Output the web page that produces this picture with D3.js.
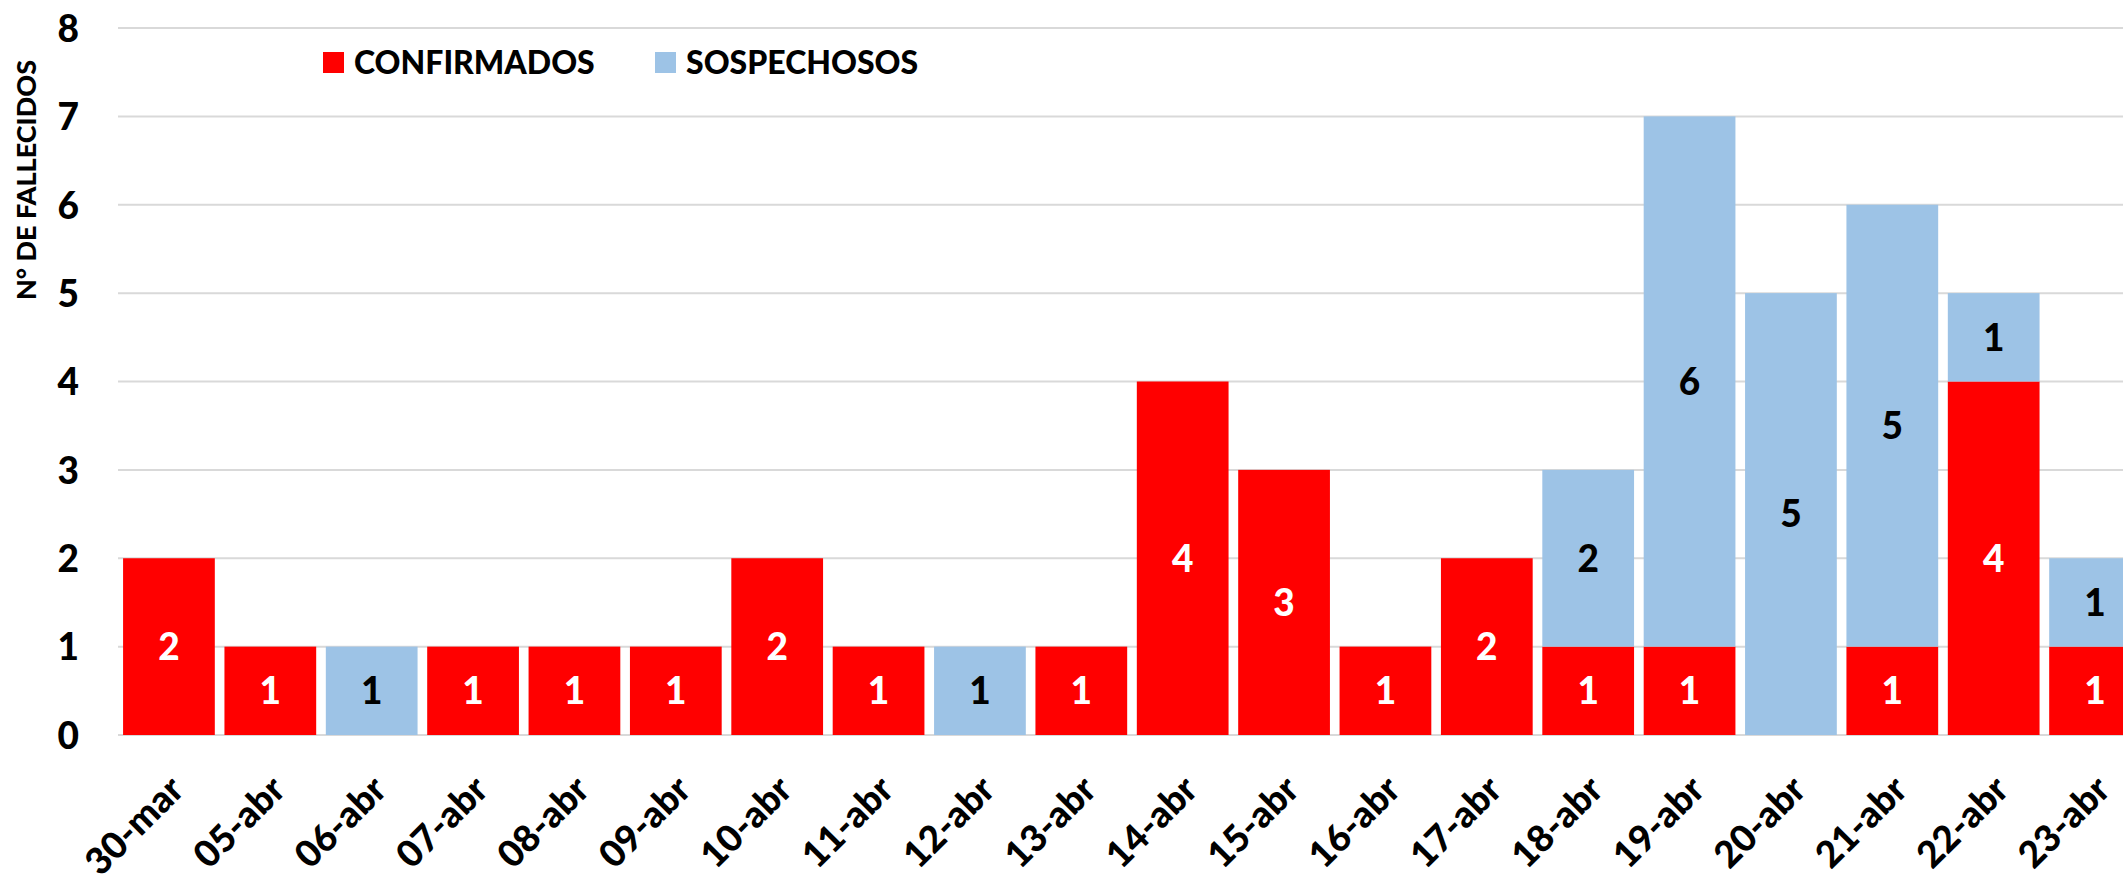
<!DOCTYPE html>
<html>
<head>
<meta charset="utf-8">
<script src="https://cdn.jsdelivr.net/npm/d3@7"></script>
<style>
  html, body { margin: 0; padding: 0; background: #fff; overflow: hidden; }
  svg text { font-family: Lato, "Open Sans", sans-serif; font-weight: 900; }
</style>
</head>
<body>
<script>
var fechas = ["30-mar", "05-abr", "06-abr", "07-abr", "08-abr", "09-abr", "10-abr", "11-abr", "12-abr", "13-abr",
              "14-abr", "15-abr", "16-abr", "17-abr", "18-abr", "19-abr", "20-abr", "21-abr", "22-abr", "23-abr"];
var confirmados = [2, 1, 0, 1, 1, 1, 2, 1, 0, 1, 4, 3, 1, 2, 1, 1, 0, 1, 4, 1];
var sospechosos = [0, 0, 1, 0, 0, 0, 0, 0, 1, 0, 0, 0, 0, 0, 2, 6, 5, 5, 1, 1];
var yTicks = [0, 1, 2, 3, 4, 5, 6, 7, 8];
var series = ["CONFIRMADOS", "SOSPECHOSOS"];

var WIDTH = 2123, HEIGHT = 878;
var COLORS = { CONFIRMADOS: "#ff0000", SOSPECHOSOS: "#9dc3e6" };
var LABEL_COLORS = { CONFIRMADOS: "#ffffff", SOSPECHOSOS: "#000000" };

var svg = d3.select("body")
    .append("svg")
    .attr("width", WIDTH)
    .attr("height", HEIGHT);

// plot area runs past the right edge, the last bar is cut like in the original
var x = d3.scaleBand()
    .domain(fechas)
    .range([118, 118 + 20 * 101.4])
    .paddingInner(0.095)
    .paddingOuter(0.05);
var y = d3.scaleLinear()
    .domain([0, 8])
    .range([735, 28]);

var tabla = fechas.map(function (f, i) {
    return { fecha: f, CONFIRMADOS: confirmados[i], SOSPECHOSOS: sospechosos[i] };
});
var stacked = d3.stack().keys(series)(tabla);

// grid
svg.append("g")
    .selectAll("line")
    .data(yTicks)
    .enter()
    .append("line")
    .attr("x1", 118)
    .attr("x2", WIDTH)
    .attr("y1", function (d) { return y(d); })
    .attr("y2", function (d) { return y(d); })
    .attr("stroke", "#d9d9d9")
    .attr("stroke-width", 2);

// y axis labels
var yAxis = svg.append("g")
    .attr("transform", "translate(79,0)")
    .call(d3.axisLeft(y).tickValues(yTicks).tickSize(0).tickPadding(0));
yAxis.select(".domain").remove();
yAxis.selectAll("text")
    .attr("font-size", "37px")
    .attr("fill", "#000")
    .attr("dy", "0.36em");

svg.append("text")
    .attr("transform", "translate(36,180) rotate(-90)")
    .attr("text-anchor", "middle")
    .attr("font-size", "27px")
    .attr("fill", "#000")
    .text("N° DE FALLECIDOS");

// bars
var capas = svg.selectAll("g.capa")
    .data(stacked)
    .enter()
    .append("g")
    .attr("class", "capa")
    .attr("fill", function (d) { return COLORS[d.key]; });
capas.selectAll("rect")
    .data(function (d) { return d; })
    .enter()
    .filter(function (d) { return d[1] > d[0]; })
    .append("rect")
    .attr("x", function (d) { return x(d.data.fecha); })
    .attr("y", function (d) { return y(d[1]); })
    .attr("width", x.bandwidth())
    .attr("height", function (d) { return y(d[0]) - y(d[1]); });

// value labels
stacked.forEach(function (s) {
    svg.append("g")
        .selectAll("text")
        .data(s.filter(function (d) { return d[1] > d[0]; }))
        .enter()
        .append("text")
        .attr("x", function (d) { return x(d.data.fecha) + x.bandwidth() / 2; })
        .attr("y", function (d) { return y((d[0] + d[1]) / 2); })
        .attr("dy", "0.36em")
        .attr("text-anchor", "middle")
        .attr("font-size", "37px")
        .attr("fill", LABEL_COLORS[s.key])
        .text(function (d) { return d[1] - d[0]; });
});

// x axis labels
var xAxis = svg.append("g")
    .attr("transform", "translate(0," + y(0) + ")")
    .call(d3.axisBottom(x).tickSize(0).tickPadding(0));
xAxis.select(".domain").remove();
xAxis.selectAll("text")
    .attr("font-size", "37px")
    .attr("fill", "#000")
    .attr("text-anchor", "end")
    .attr("dy", null)
    .attr("transform", "translate(17,57) rotate(-45)");

// legend
var leyenda = svg.append("g")
    .selectAll("g")
    .data(series)
    .enter()
    .append("g")
    .attr("transform", function (d, i) { return "translate(" + [323, 655][i] + ",52)"; });
leyenda.append("rect")
    .attr("width", 21)
    .attr("height", 21)
    .attr("fill", function (d) { return COLORS[d]; });
leyenda.append("text")
    .attr("x", 31)
    .attr("y", 10.5)
    .attr("dy", "0.36em")
    .attr("font-size", "32px")
    .attr("fill", "#000")
    .text(function (d) { return d; });
</script>
</body>
</html>
